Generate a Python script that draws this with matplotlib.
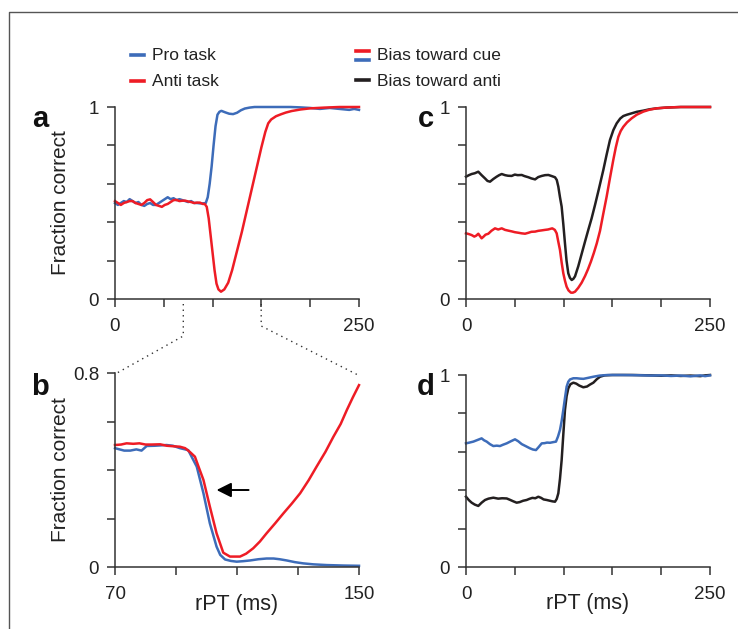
import matplotlib
matplotlib.use("Agg")
import matplotlib.pyplot as plt
from matplotlib.lines import Line2D

plt.rcParams['font.family'] = ['Liberation Sans', 'DejaVu Sans']

# ---- panel a : fraction correct vs rPT (0-250 ms) ----
a_pro_x = [0, 3, 6, 9, 12, 15, 18, 21, 24, 27, 30, 33, 36, 39, 42, 45, 48, 51, 54, 57,
           60, 63, 66, 69, 72, 75, 78, 81, 84, 87, 90, 93, 95, 97, 99, 101, 103, 105, 107,
           109, 113, 117, 121, 125, 129, 133, 138, 143, 150, 160, 170, 180, 190, 200, 210,
           220, 230, 240, 245, 250]
a_pro_y = [0.50, 0.49, 0.50, 0.51, 0.505, 0.52, 0.51, 0.50, 0.505, 0.49, 0.485, 0.495, 0.50,
           0.49, 0.49, 0.50, 0.51, 0.52, 0.53, 0.52, 0.525, 0.515, 0.52, 0.515, 0.51, 0.505,
           0.51, 0.50, 0.50, 0.498, 0.498, 0.50, 0.53, 0.60, 0.69, 0.80, 0.90, 0.96, 0.975,
           0.98, 0.972, 0.965, 0.963, 0.97, 0.983, 0.992, 0.997, 1.0, 1.0, 1.0, 1.0, 1.0,
           0.998, 0.995, 0.99, 0.995, 0.99, 0.985, 0.99, 0.985]

a_anti_x = [0, 3, 6, 9, 12, 15, 18, 21, 24, 27, 30, 33, 36, 39, 42, 45, 48, 51, 54, 57,
            60, 63, 66, 69, 72, 75, 78, 81, 84, 87, 90, 92, 94, 96, 98, 100, 102, 104, 106,
            108.6, 112, 116, 120, 125, 130, 135, 140, 145, 150, 154, 157, 160, 165, 170,
            175, 181, 190, 200, 215, 230, 250]
a_anti_y = [0.51, 0.50, 0.49, 0.50, 0.505, 0.51, 0.51, 0.50, 0.495, 0.49, 0.50, 0.515,
            0.519, 0.505, 0.49, 0.485, 0.48, 0.49, 0.495, 0.505, 0.515, 0.516, 0.51, 0.512,
            0.512, 0.508, 0.505, 0.50, 0.502, 0.502, 0.495, 0.495, 0.48, 0.42, 0.33, 0.24,
            0.15, 0.08, 0.05, 0.038, 0.05, 0.085, 0.15, 0.25, 0.35, 0.46, 0.57, 0.68, 0.79,
            0.87, 0.915, 0.935, 0.952, 0.962, 0.971, 0.979, 0.987, 0.993, 0.997, 1.0, 1.0]

# ---- panel b : zoom on 70-150 ms ----
b_pro_x = [70, 71.5, 73, 75, 77, 78.7, 80.4, 83, 86.9, 89, 91.3, 94, 96.8, 99, 101.1, 103.3,
           104.5, 106.1, 108, 109.9, 112, 114.3, 117, 119.7, 122, 124, 126.3, 129, 131.7,
           135, 139.4, 145, 150]
b_pro_y = [0.49, 0.485, 0.48, 0.48, 0.485, 0.48, 0.499, 0.50, 0.503, 0.50, 0.49, 0.482,
           0.414, 0.304, 0.18, 0.084, 0.05, 0.031, 0.025, 0.022, 0.024, 0.027, 0.032, 0.035,
           0.035, 0.032, 0.027, 0.02, 0.015, 0.011, 0.008, 0.006, 0.005]

b_anti_x = [70, 72, 73.8, 76, 78, 80, 82, 84.8, 87, 89, 91.3, 93, 94.5, 96.2, 97.5, 99,
            101.1, 103.3, 105.5, 107.7, 111, 113, 115.3, 117.5, 119.7, 122.5, 125.2, 128,
            130.7, 133.5, 136.1, 139, 141.6, 144, 146, 148, 150]
b_anti_y = [0.503, 0.505, 0.510, 0.508, 0.51, 0.505, 0.505, 0.506, 0.50, 0.498, 0.496,
            0.49, 0.475, 0.455, 0.41, 0.359, 0.249, 0.139, 0.059, 0.043, 0.043, 0.055, 0.077,
            0.105, 0.139, 0.18, 0.221, 0.262, 0.304, 0.358, 0.414, 0.475, 0.537, 0.59, 0.647,
            0.70, 0.75]

# ---- panel c : bias toward cue / anti (anti task) ----
c_anti_x = [0, 3, 5.8, 9, 12.6, 16, 19.5, 22, 24.6, 28, 31.4, 34, 36.6, 40, 43, 46.8, 50,
            53, 57.1, 60, 64, 67, 70.8, 74, 77.6, 81, 84.4, 88, 91.2, 93, 94.6, 96.3, 98,
            99.7, 101.4, 103, 104.8, 106.5, 108.3, 110, 111.7, 115, 118.5, 122, 125.3, 128.7,
            132.2, 136, 140.7, 144, 147.5, 151, 154.4, 158, 161.2, 165, 169.7, 175, 181.7,
            188, 195.4, 205, 220, 250]
c_anti_y = [0.637, 0.645, 0.651, 0.655, 0.663, 0.645, 0.628, 0.615, 0.611, 0.625, 0.637,
            0.645, 0.651, 0.645, 0.642, 0.641, 0.648, 0.645, 0.646, 0.64, 0.634, 0.628,
            0.623, 0.635, 0.641, 0.645, 0.646, 0.64, 0.634, 0.62, 0.585, 0.53, 0.481, 0.39,
            0.29, 0.2, 0.134, 0.11, 0.099, 0.105, 0.118, 0.17, 0.235, 0.30, 0.36, 0.42,
            0.49, 0.57, 0.672, 0.75, 0.828, 0.88, 0.915, 0.94, 0.953, 0.96, 0.967, 0.975,
            0.981, 0.988, 0.993, 0.997, 1.0, 1.0]

c_cue_x = [0, 3, 5.8, 8.5, 10.5, 12.6, 14, 16, 18, 20, 22.9, 26, 29.7, 33, 36.6, 40, 43.4,
           47, 50, 53.7, 57, 60.5, 64, 67, 70.8, 74, 77, 81, 84, 88.4, 91, 92.9, 94.5, 96.3,
           98, 99.7, 101.4, 103.1, 105, 107.5, 109.5, 111.7, 115, 118.5, 122, 125, 128, 131,
           134, 137.3, 140.5, 144.1, 147.5, 150.9, 153.5, 156.1, 158.5, 161.2, 165,
           169.7, 175, 181.7, 188, 195.4, 205, 220, 250]
c_cue_y = [0.342, 0.338, 0.333, 0.325, 0.33, 0.34, 0.33, 0.316, 0.325, 0.335, 0.34, 0.355,
           0.368, 0.362, 0.368, 0.36, 0.356, 0.352, 0.348, 0.345, 0.342, 0.34, 0.345, 0.35,
           0.351, 0.355, 0.357, 0.36, 0.362, 0.368, 0.36, 0.342, 0.3, 0.255, 0.19, 0.134,
           0.095, 0.064, 0.045, 0.033, 0.033, 0.038, 0.058, 0.085, 0.12, 0.155, 0.195, 0.24,
           0.29, 0.355, 0.44, 0.533, 0.63, 0.724, 0.79, 0.845, 0.875, 0.897, 0.92,
           0.941, 0.96, 0.976, 0.986, 0.993, 0.997, 1.0, 1.0]

# ---- panel d : bias toward cue / anti (pro task) ----
d_cue_x = [0, 3.5, 7.5, 11, 13.5, 16, 18.5, 21.2, 24.5, 28, 31.5, 34.8, 38, 41.7, 46, 50.2,
           53.5, 57.1, 61, 65.6, 68.5, 71.7, 74.5, 77.6, 80.5, 83, 86.1, 89, 92.2, 94.3,
           96.3, 98, 99.7, 101.4, 103.1, 104.8, 106.6, 110, 113.4, 117, 120.3, 125, 130.5,
           137, 145, 160, 175, 190, 200, 210, 220, 230, 240, 245, 250]
d_cue_y = [0.644, 0.648, 0.653, 0.66, 0.665, 0.67, 0.66, 0.653, 0.64, 0.63, 0.632, 0.63,
           0.637, 0.644, 0.655, 0.665, 0.655, 0.64, 0.63, 0.618, 0.612, 0.609, 0.625, 0.644,
           0.645, 0.648, 0.647, 0.65, 0.653, 0.68, 0.714, 0.76, 0.818, 0.88, 0.939, 0.965,
           0.977, 0.983, 0.983, 0.981, 0.98, 0.985, 0.991, 0.997, 1.0, 1.0, 0.999, 0.997,
           0.998, 0.995, 0.997, 0.993, 0.998, 0.994, 0.998]

d_anti_x = [0, 3, 5.8, 9, 12.6, 16, 19.5, 23, 28, 33, 37, 41.7, 45, 48.5, 51.9, 55, 58.5,
            62.1, 65, 68, 71, 74.1, 77, 79.5, 82.7, 86, 88.5, 91.2, 93, 94.6, 96.3, 98, 99.7,
            101.4, 103.1, 104.8, 107, 110, 113, 116, 120.2, 124, 127, 130.5, 134, 137.3, 142,
            150, 170, 190, 200, 210, 220, 230, 240, 245, 250]
d_anti_y = [0.366, 0.348, 0.335, 0.325, 0.318, 0.335, 0.349, 0.356, 0.361, 0.356, 0.358,
            0.357, 0.35, 0.342, 0.335, 0.338, 0.345, 0.349, 0.355, 0.36, 0.358, 0.366, 0.36,
            0.352, 0.349, 0.345, 0.342, 0.34, 0.355, 0.384, 0.46, 0.557, 0.69, 0.818, 0.89,
            0.93, 0.952, 0.96, 0.955, 0.945, 0.936, 0.94, 0.95, 0.96, 0.978, 0.991, 0.998,
            1.0, 1.0, 0.998, 0.996, 0.998, 0.995, 0.997, 0.994, 0.998, 1.0]

# tick values and labels
full_xticks = [0, 50, 100, 150, 200, 250]
full_xticklabels = ['0', '', '', '', '', '250']
zoom_xticks = [70, 90, 110, 130, 150]
zoom_xticklabels = ['70', '', '', '', '150']
unit_yticks = [0, 0.2, 0.4, 0.6, 0.8, 1.0]
unit_yticklabels = ['0', '', '', '', '', '1']
zoom_yticks = [0, 0.2, 0.4, 0.6, 0.8]
zoom_yticklabels = ['0', '', '', '', '0.8']

BLUE = '#3d6cb9'
RED = '#ee1c25'
BLACK = '#231f20'
SPINE = '#333333'

W, H = 738, 629
fig = plt.figure(figsize=(W / 100, H / 100), dpi=100)


def px(x, y):
    # pixel position (from top-left) -> figure fraction
    return x / W, 1 - y / H


def make_axes(left, top, right, bottom):
    x0, y1 = px(left, top)
    x1, y0 = px(right, bottom)
    return fig.add_axes([x0, y0, x1 - x0, y1 - y0])


ax_a = make_axes(115, 107, 359, 299)
ax_b = make_axes(115, 373, 359, 567)
ax_c = make_axes(466, 107, 710, 299)
ax_d = make_axes(466, 375, 710, 567)

lw = 1.8
ax_a.plot(a_pro_x, a_pro_y, color=BLUE, lw=lw, clip_on=False)
ax_a.plot(a_anti_x, a_anti_y, color=RED, lw=lw, clip_on=False)
ax_b.plot(b_pro_x, b_pro_y, color=BLUE, lw=lw, clip_on=False)
ax_b.plot(b_anti_x, b_anti_y, color=RED, lw=lw, clip_on=False)
ax_c.plot(c_anti_x, c_anti_y, color=BLACK, lw=lw, clip_on=False)
ax_c.plot(c_cue_x, c_cue_y, color=RED, lw=lw, clip_on=False)
ax_d.plot(d_anti_x, d_anti_y, color=BLACK, lw=lw, clip_on=False)
ax_d.plot(d_cue_x, d_cue_y, color=BLUE, lw=lw, clip_on=False)

for ax in (ax_a, ax_b, ax_c, ax_d):
    for side in ('top', 'right'):
        ax.spines[side].set_visible(False)
    for side in ('left', 'bottom'):
        ax.spines[side].set_color(SPINE)
        ax.spines[side].set_linewidth(1.1)
    ax.tick_params(direction='out', length=5.5, width=1.1, color=SPINE,
                   labelsize=13.5, labelcolor='#222222')
    ax.tick_params(axis='y', pad=6)
    ax.tick_params(axis='x', pad=8)
    ax.patch.set_visible(False)

for ax in (ax_a, ax_c, ax_d):
    ax.set_xlim(0, 250)
    ax.set_ylim(0, 1)
    ax.set_xticks(full_xticks, full_xticklabels)
    ax.set_yticks(unit_yticks, unit_yticklabels)
ax_b.set_xlim(70, 150)
ax_b.set_ylim(0, 0.8)
ax_b.set_xticks(zoom_xticks, zoom_xticklabels)
ax_b.set_yticks(zoom_yticks, zoom_yticklabels)

for ax in (ax_a, ax_b):
    ax.set_ylabel('Fraction correct', fontsize=15, color='#222222')
    ax.yaxis.set_label_coords(-45 / 244, 0.5)
for ax in (ax_b, ax_d):
    ax.set_xlabel('rPT (ms)', fontsize=15.5, color='#222222')
    ax.xaxis.set_label_coords(0.5, -37 / 192)
    ax.xaxis.label.set_va('center')

# arrow in panel b
ax_b.annotate('', xy=(103.3, 0.3175), xytext=(113.8, 0.3175),
              arrowprops=dict(arrowstyle='-|>', color='black', lw=1.4,
                              mutation_scale=22, shrinkA=0, shrinkB=0))

# panel letters
for letter, (lx, ly) in zip('abcd', [(40, 119), (40, 387), (426, 119), (426, 387)]):
    fig.text(*px(lx, ly), letter, fontsize=21, fontweight='bold',
             ha='center', va='center', color='#111111')

# legends drawn by hand (the cue entry uses two stacked swatches)
legend_font = dict(fontsize=12.5, va='center', ha='left', color='#222222')


def swatch(x0, x1, y, color):
    (fx0, fy), (fx1, _) = px(x0, y), px(x1, y)
    fig.add_artist(Line2D([fx0, fx1], [fy, fy], color=color, lw=2.6,
                          transform=fig.transFigure))


swatch(131, 144, 55, BLUE)
fig.text(*px(152, 56), 'Pro task', **legend_font)
swatch(131, 144, 81, RED)
fig.text(*px(152, 81), 'Anti task', **legend_font)
swatch(356, 369, 51, RED)
swatch(356, 369, 60, BLUE)
fig.text(*px(377, 56), 'Bias toward cue', **legend_font)
swatch(356, 369, 80, BLACK)
fig.text(*px(377, 81), 'Bias toward anti', **legend_font)

# dotted zoom guides from panel a to panel b
for pts in ([(183.3, 304), (183.3, 336), (117, 373)],
            [(261.2, 304), (261.2, 326), (358, 375)]):
    xs = [px(*p)[0] for p in pts]
    ys = [px(*p)[1] for p in pts]
    fig.add_artist(Line2D(xs, ys, color='#333333', lw=1.0, linestyle=(0, (1, 3)),
                          transform=fig.transFigure))

# figure frame (left and top edges)
fx, fy = px(9, 12)
fig.add_artist(Line2D([fx, fx, 1.0], [0.0, fy, fy], color='#555555', lw=1.0,
                      transform=fig.transFigure))

fig.savefig('out.png', dpi=100)
